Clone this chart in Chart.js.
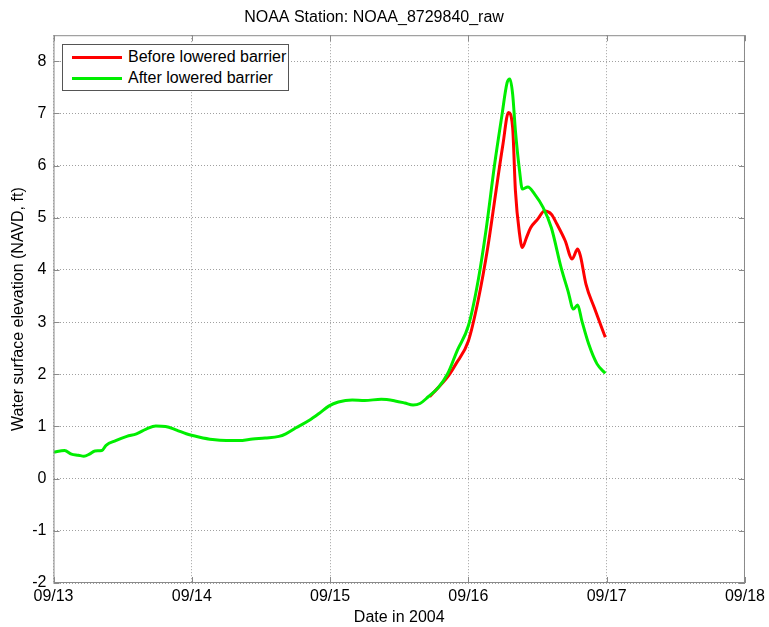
<!DOCTYPE html>
<html>
<head>
<meta charset="utf-8">
<script src="https://cdn.jsdelivr.net/npm/chart.js@4.4.1/dist/chart.umd.min.js"></script>
<style>
  html, body { margin: 0; padding: 0; background: #fff; }
  #wrap { position: relative; width: 769px; height: 627px; }
  #legend {
    position: absolute; left: 62px; top: 44px; width: 225px; height: 45px;
    border: 1px solid #555; background: #fff; box-sizing: content-box;
    font-family: "Liberation Sans", Arial, sans-serif; font-size: 16px; color: #000;
  }
  .item { position: absolute; left: 0; height: 20px; width: 100%; }
  .swatch { position: absolute; left: 9px; width: 50px; height: 3px; top: 9px; }
  .lbl { position: absolute; left: 65px; top: 0; line-height: 20px; white-space: nowrap; }
</style>
</head>
<body>
<div id="wrap">
  <canvas id="c" width="769" height="627"></canvas>
  <div id="legend"></div>
</div>
<script>
// ---- data (x in days since 09/13/2004 00:00) ----
const dateLabels = ['09/13', '09/14', '09/15', '09/16', '09/17', '09/18'];
const seriesNames = ['Before lowered barrier', 'After lowered barrier'];

const beforeDays = [2.72, 2.78, 2.85, 2.91, 3.00, 3.07, 3.14, 3.20, 3.25, 3.29, 3.32, 3.34, 3.37, 3.39,
  3.42, 3.45, 3.50, 3.55, 3.60, 3.64, 3.70, 3.75, 3.79, 3.81, 3.85, 3.91, 3.99];
const beforeValues = [1.57, 1.74, 1.95, 2.20, 2.64, 3.41, 4.43, 5.52, 6.41, 7.02, 6.73, 5.52, 4.69, 4.43,
  4.62, 4.81, 4.97, 5.13, 5.07, 4.88, 4.56, 4.21, 4.40, 4.27, 3.73, 3.28, 2.71];

const afterDays = [0.00, 0.08, 0.13, 0.18, 0.22, 0.26, 0.30, 0.35, 0.38, 0.45, 0.53, 0.60, 0.67, 0.74,
  0.81, 0.89, 0.96, 1.05, 1.15, 1.25, 1.34, 1.44, 1.53, 1.63, 1.68, 1.75, 1.85, 1.92, 1.99, 2.06,
  2.16, 2.25, 2.37, 2.47, 2.54, 2.60, 2.65, 2.71, 2.78, 2.85, 2.92, 3.00, 3.07, 3.13, 3.19, 3.24,
  3.28, 3.30, 3.32, 3.34, 3.37, 3.39, 3.43, 3.48, 3.54, 3.60, 3.67, 3.72, 3.76, 3.79, 3.82, 3.87,
  3.93, 3.99];
const afterValues = [0.51, 0.54, 0.47, 0.45, 0.43, 0.47, 0.53, 0.54, 0.64, 0.73, 0.81, 0.86, 0.95, 1.01,
  1.00, 0.93, 0.86, 0.80, 0.75, 0.73, 0.73, 0.76, 0.78, 0.81, 0.86, 0.97, 1.12, 1.25, 1.39, 1.47,
  1.51, 1.50, 1.52, 1.49, 1.45, 1.41, 1.44, 1.57, 1.74, 2.01, 2.46, 2.93, 3.79, 4.81, 6.03, 6.92,
  7.59, 7.66, 7.37, 6.67, 5.90, 5.55, 5.59, 5.45, 5.20, 4.81, 4.05, 3.60, 3.25, 3.33, 3.03, 2.58,
  2.20, 2.02];

const colors = ['#ff0000', '#00ee00'];
const FONT = '"Liberation Sans", Arial, sans-serif';

const toXY = (xs, ys) => xs.map((x, i) => ({ x: x, y: ys[i] }));

// box + inward tick marks, MATLAB style
const boxPlugin = {
  id: 'box',
  afterDraw(chart) {
    const { ctx, chartArea: a, scales } = chart;
    ctx.save();
    ctx.strokeStyle = '#8a8a8a';
    ctx.lineWidth = 1;
    ctx.setLineDash([]);
    ctx.strokeRect(a.left + 0.5, a.top + 0.5, a.right - a.left - 1, a.bottom - a.top - 1);
    ctx.beginPath();
    scales.x.ticks.forEach(t => {
      const px = Math.round(scales.x.getPixelForValue(t.value)) + 0.5;
      ctx.moveTo(px, a.bottom); ctx.lineTo(px, a.bottom - 6);
      ctx.moveTo(px, a.top); ctx.lineTo(px, a.top + 6);
    });
    scales.y.ticks.forEach(t => {
      const py = Math.round(scales.y.getPixelForValue(t.value)) + 0.5;
      ctx.moveTo(a.left, py); ctx.lineTo(a.left + 6, py);
      ctx.moveTo(a.right, py); ctx.lineTo(a.right - 6, py);
    });
    ctx.stroke();
    ctx.restore();
  }
};

const chart = new Chart(document.getElementById('c'), {
  type: 'line',
  data: {
    datasets: [
      { label: seriesNames[0], data: toXY(beforeDays, beforeValues), borderColor: colors[0],
        backgroundColor: colors[0], borderWidth: 3, pointRadius: 0, order: 1,
        cubicInterpolationMode: 'monotone' },
      { label: seriesNames[1], data: toXY(afterDays, afterValues), borderColor: colors[1],
        backgroundColor: colors[1], borderWidth: 3, pointRadius: 0, order: 0,
        cubicInterpolationMode: 'monotone' }
    ]
  },
  options: {
    responsive: false,
    animation: false,
    devicePixelRatio: 1,
    layout: { padding: { left: 0, right: 21, top: 0, bottom: 0 } },
    plugins: {
      legend: { display: false },
      tooltip: { enabled: false },
      title: {
        display: true, text: 'NOAA Station: NOAA_8729840_raw', color: '#000',
        font: { family: FONT, size: 16, weight: 'normal' },
        padding: { top: 8, bottom: 8 }
      }
    },
    scales: {
      x: {
        type: 'linear', min: 0, max: 5,
        ticks: { stepSize: 1, color: '#000', padding: 4, maxRotation: 0,
          font: { family: FONT, size: 16 },
          callback: v => dateLabels[Math.round(v)] },
        grid: { color: '#a0a0a0', drawTicks: false, lineWidth: 1 },
        border: { display: false, dash: [1, 2] },
        title: { display: true, text: 'Date in 2004', color: '#000',
          font: { family: FONT, size: 16 }, padding: { top: 0, bottom: 0 } },
        afterFit: s => { s.height = 44; }
      },
      y: {
        type: 'linear', min: -2, max: 8.5,
        afterBuildTicks: s => { s.ticks = s.ticks.filter(t => Number.isInteger(t.value)); },
        ticks: { stepSize: 1, color: '#000', padding: 7,
          font: { family: FONT, size: 16 } },
        grid: { color: '#a0a0a0', drawTicks: false, lineWidth: 1 },
        border: { display: false, dash: [1, 2] },
        title: { display: true, text: 'Water surface elevation (NAVD, ft)', color: '#000',
          font: { family: FONT, size: 16 }, padding: { top: 9, bottom: 0 } },
        afterFit: s => { s.width = 53.5; }
      }
    }
  },
  plugins: [boxPlugin]
});

// HTML legend built from the dataset definitions
const legendEl = document.getElementById('legend');
chart.data.datasets.forEach((ds, i) => {
  const item = document.createElement('div');
  item.className = 'item';
  item.style.top = (2 + i * 21) + 'px';
  const sw = document.createElement('div');
  sw.className = 'swatch';
  sw.style.background = ds.borderColor;
  const lb = document.createElement('div');
  lb.className = 'lbl';
  lb.textContent = ds.label;
  item.appendChild(sw); item.appendChild(lb);
  legendEl.appendChild(item);
});
</script>
</body>
</html>
